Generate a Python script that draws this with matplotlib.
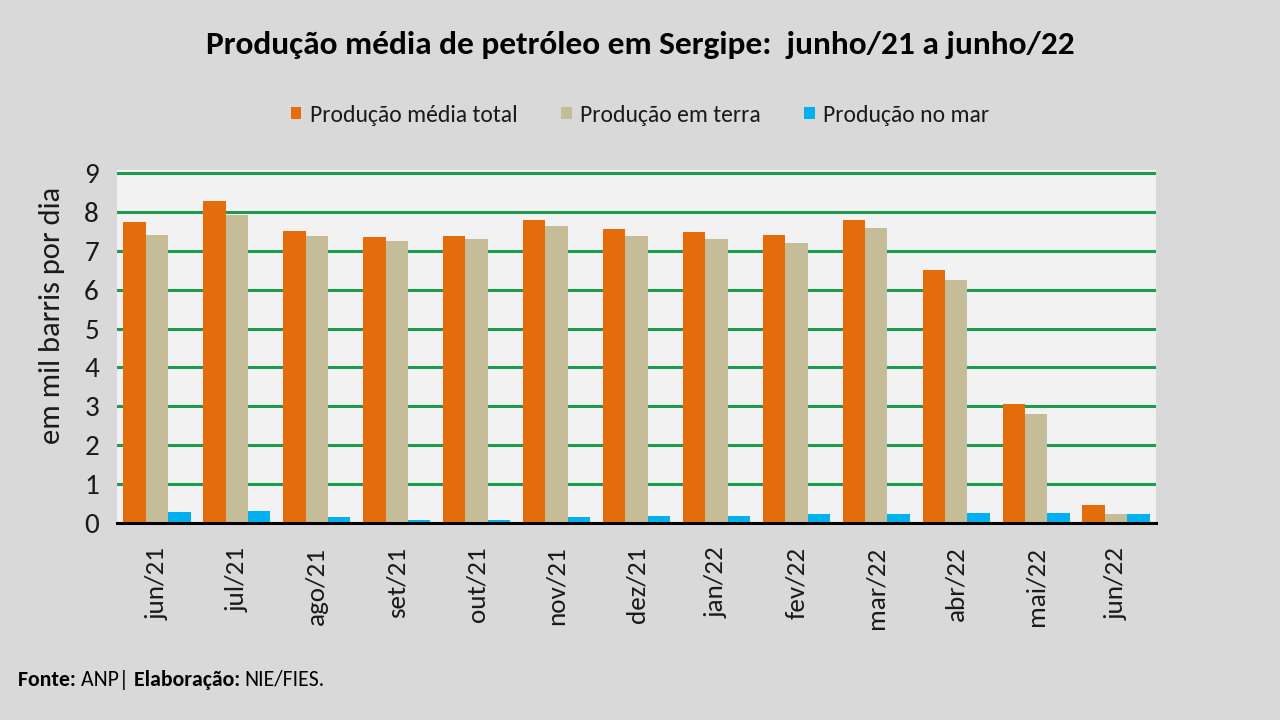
import matplotlib
matplotlib.use("Agg")
import matplotlib.pyplot as plt
from matplotlib import font_manager
import numpy as np

categories = ["jun/21", "jul/21", "ago/21", "set/21", "out/21", "nov/21", "dez/21",
              "jan/22", "fev/22", "mar/22", "abr/22", "mai/22", "jun/22"]
total = [7.73, 8.28, 7.52, 7.35, 7.38, 7.79, 7.55, 7.49, 7.41, 7.79, 6.51, 3.05, 0.46]
terra = [7.41, 7.93, 7.38, 7.25, 7.31, 7.65, 7.38, 7.31, 7.21, 7.59, 6.25, 2.81, 0.22]
mar = [0.28, 0.32, 0.15, 0.07, 0.07, 0.15, 0.18, 0.18, 0.22, 0.22, 0.26, 0.26, 0.22]
series_names = ["Produção média total", "Produção em terra", "Produção no mar"]
yticks = list(range(0, 10))

avail = {f.name for f in font_manager.fontManager.ttflist}
cands = ["Carlito", "Liberation Sans Narrow", "Open Sans", "DejaVu Sans"]
fam = [c for c in cands if c in avail]
plt.rcParams['font.family'] = fam + ["DejaVu Sans"]

BG = "#D9D9D9"
PLOT_BG = "#F2F2F2"
colors = ["#E46C0A", "#C4BD97", "#00B0F0"]
GRID = "#1F9B4F"
TXT = "#1a1a1a"

fig = plt.figure(figsize=(12.8, 7.2), dpi=100, facecolor=BG)
ax = fig.add_axes([117/1280, 1-523/720, (1156-117)/1280, (523-170)/720])
ax.set_facecolor(PLOT_BG)

x = np.arange(len(categories))
w = 0.28
for i, (vals, c, n) in enumerate(zip([total, terra, mar], colors, series_names)):
    ax.bar(x + (i-1)*w, vals, width=w, color=c, label=n, zorder=3)

ax.set_xlim(-0.5, len(categories)-0.5)
ax.set_ylim(0, 9.08)
ax.set_yticks(yticks)
ax.set_yticklabels([str(t) for t in yticks], fontsize=21, color=TXT)
ax.set_xticks(x)
ax.set_xticklabels(categories, rotation=90, fontsize=19.5, color=TXT)
ax.tick_params(axis='both', length=0)
ax.tick_params(axis='y', pad=13)
ax.tick_params(axis='x', pad=17)
ax.yaxis.grid(True, color=GRID, linewidth=2.2, zorder=1)
ax.set_axisbelow(True)
for s in ["top", "right", "left"]:
    ax.spines[s].set_visible(False)
ax.spines["bottom"].set_color("black")
ax.spines["bottom"].set_linewidth(2.2)
ax.spines["bottom"].set_zorder(4)

ax.set_ylabel("em mil barris por dia", fontsize=22, color=TXT)
ax.yaxis.set_label_coords((65-117)/1039, (523-315)/353)

fig.text(0.5, 1-45/720, "Produção média de petróleo em Sergipe:  junho/21 a junho/22",
         ha="center", va="center", fontsize=24, fontweight="bold", color="black")

leg = fig.legend(loc="center", bbox_to_anchor=(0.5, 1-115/720), ncol=3, frameon=False,
                 fontsize=17, handlelength=0.45, handleheight=0.45, handletextpad=0.35,
                 columnspacing=1.85)
for t in leg.get_texts():
    t.set_color(TXT)

# footer with mixed weights
renderer = fig.canvas.get_renderer()
parts = [("Fonte: ", "bold"), ("ANP| ", "normal"), ("Elaboração: ", "bold"), ("NIE/FIES.", "normal")]
xpos = 18
for txt, wt in parts:
    t = fig.text(xpos/1280, 1-680/720, txt, ha="left", va="center", fontsize=15.7,
                 fontweight=wt, color="black")
    bb = t.get_window_extent(renderer=renderer)
    xpos += bb.width

fig.savefig("out.png", dpi=100, facecolor=BG)
